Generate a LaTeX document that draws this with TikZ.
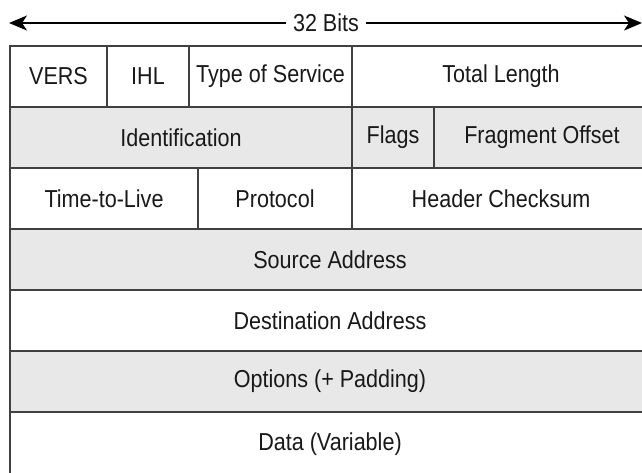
\documentclass[tikz,border=0pt]{standalone}
\usepackage{fontspec}
\setmainfont{Liberation Sans}[FakeStretch=0.88]
\usetikzlibrary{positioning,arrows.meta}

\begin{document}
\begin{tikzpicture}[x=1pt, y=-1pt,
    field/.style={draw=black!75, line width=1.6pt, outer sep=0pt, inner sep=0pt, minimum height=61pt, anchor=north west, text=black!90, font=\fontsize{24.5}{27}\selectfont},
    plain/.style={field, fill=white},
    shaded/.style={field, fill=black!9}]
    \useasboundingbox (0,0) rectangle (642,472);
    % 32 bit arrow
    \node[fill=white, inner sep=0pt, inner xsep=7pt, text=black!90, font=\fontsize{24.5}{27}\selectfont] (bits) at (326,23) {32 Bits};
    \coordinate (lend) at (9,23);
    \coordinate (rend) at (642,23);
    \draw[line width=1.6pt, -{Stealth[length=18pt, width=15pt, inset=5pt]}] (bits.west) -- (lend);
    \draw[line width=1.6pt, -{Stealth[length=18pt, width=15pt, inset=5pt]}] (bits.east) -- (rend);
    % header rows
    \node[plain, minimum width=97pt] (vers) at (10,46) {VERS};
    \node[plain, minimum width=82pt, right=0pt of vers] (ihl) {IHL};
    \node[plain, minimum width=163pt, right=0pt of ihl] (tos) {Type of Service};
    \node[plain, minimum width=298pt, right=0pt of tos] (totlen) {Total Length};
    \node[shaded, minimum width=342pt] (ident) at (10,107) {Identification};
    \node[shaded, minimum width=82pt, right=0pt of ident] (flags) {Flags};
    \node[shaded, minimum width=216pt, right=0pt of flags] (fragoff) {Fragment Offset};
    \node[plain, minimum width=188pt] (ttl) at (10,168) {Time-to-Live};
    \node[plain, minimum width=154pt, right=0pt of ttl] (proto) {Protocol};
    \node[plain, minimum width=298pt, right=0pt of proto] (chksum) {Header Checksum};
    \node[shaded, minimum width=640pt] (src) at (10,229) {Source Address};
    \node[plain, minimum width=640pt] (dst) at (10,290) {Destination Address};
    \node[shaded, minimum width=640pt] (opts) at (10,351) {Options (+ Padding)};
    \node[plain, minimum width=640pt, minimum height=66pt, text depth=6pt] (data) at (10,412) {Data (Variable)};
\end{tikzpicture}
\end{document}
